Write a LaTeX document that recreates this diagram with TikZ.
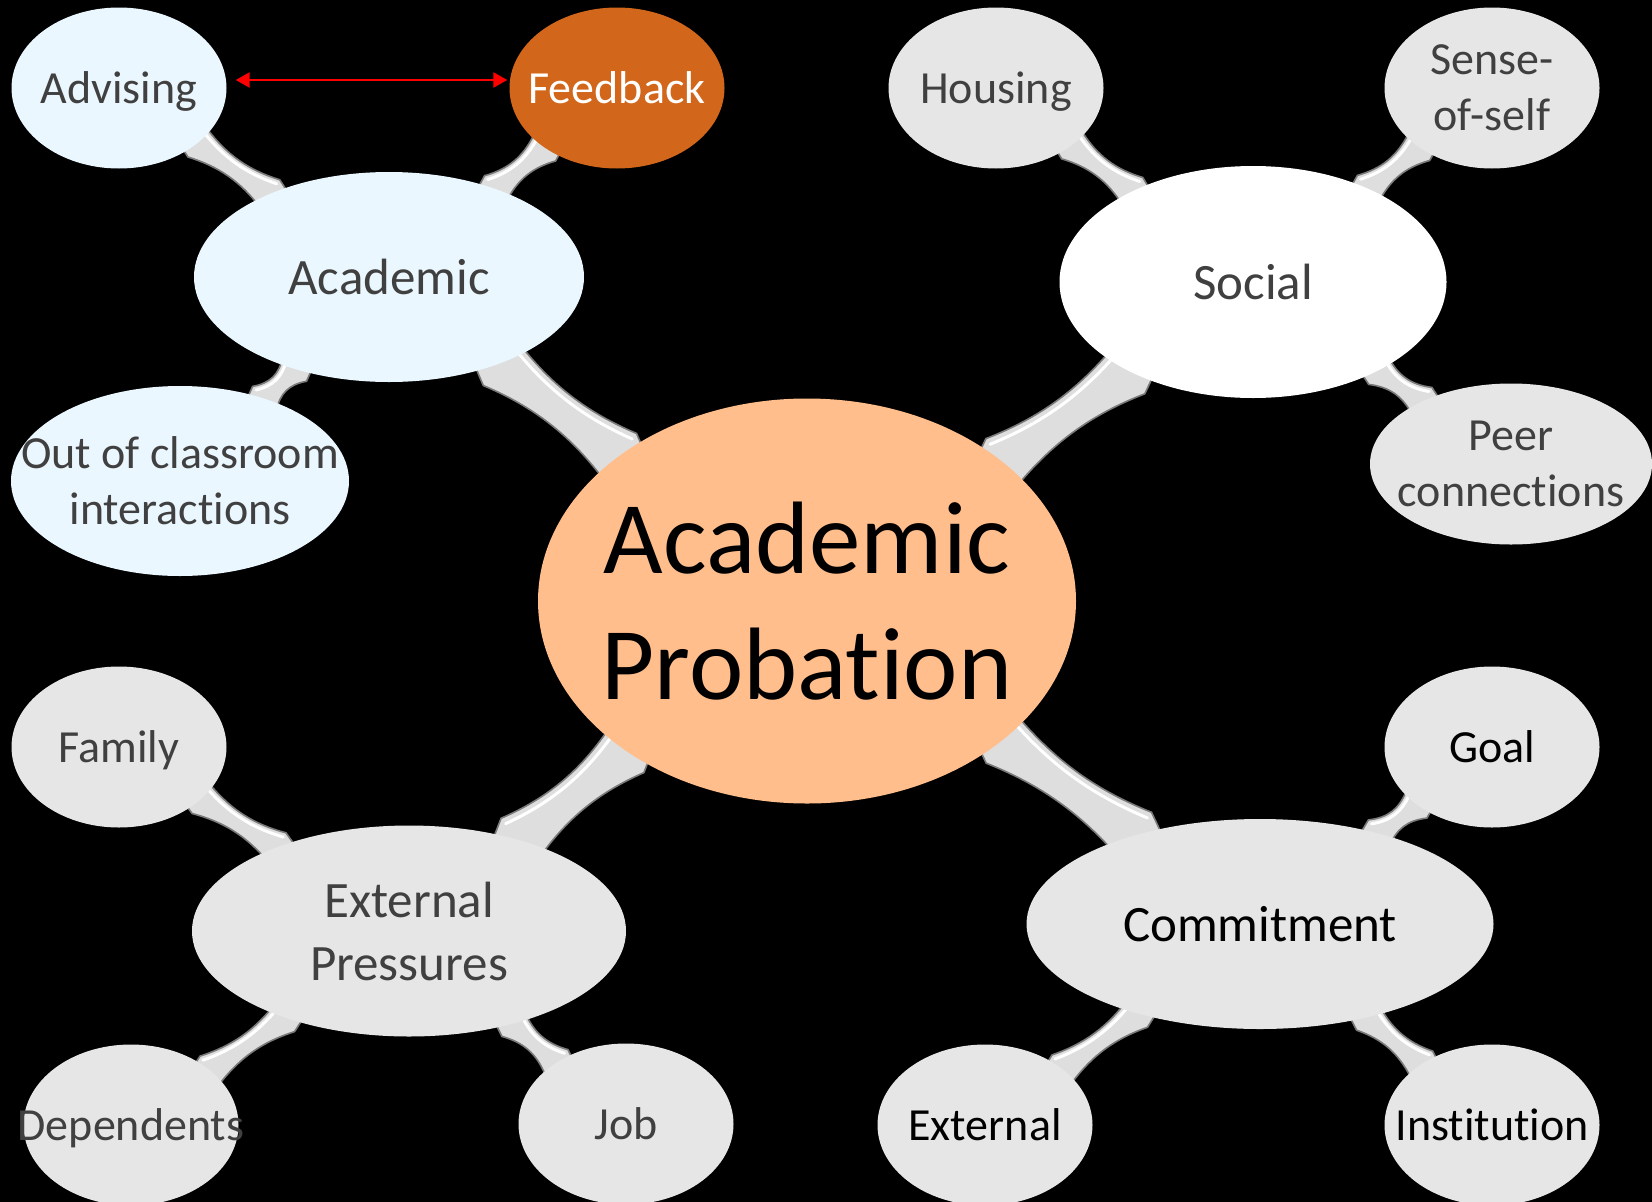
\documentclass[tikz,border=0pt]{standalone}
\usepackage{fontspec}
\setmainfont{Carlito}[Ligatures=NoCommon]
\usetikzlibrary{shapes.geometric,calc,arrows.meta}

\definecolor{acadblue}{HTML}{EAF7FE}
\definecolor{feedorange}{HTML}{D2661A}
\definecolor{hubpeach}{HTML}{FFBE8C}
\definecolor{leafgray}{HTML}{E6E6E6}
\definecolor{textgray}{HTML}{404040}
\definecolor{stemgray}{HTML}{DEDEDE}
\definecolor{stemedge}{HTML}{7A7A7A}

\pgfdeclarelayer{bg}
\pgfdeclarelayer{stems}
\pgfsetlayers{bg,stems,main}

\tikzset{
  bubble/.style={ellipse, inner sep=0pt},
  leaf/.style={bubble, minimum width=215pt, minimum height=161pt, fill=leafgray},
  stem/.style={fill=stemgray, draw=stemedge, line width=1.6pt},
  shine/.style={white, line width=3pt, line cap=round},
  leaftext/.style={font=\fontsize{46}{56}\selectfont, text=textgray, align=center, inner sep=0pt, text depth=0pt},
  midtext/.style={font=\fontsize{51}{63}\selectfont, text=textgray, align=center, inner sep=0pt, text depth=0pt},
  hubtext/.style={font=\fontsize{103}{126}\selectfont, text=black, align=center, inner sep=0pt, text depth=0pt},
  linkarrow/.style={{Triangle[length=14pt,width=15pt]}-{Triangle[length=14pt,width=15pt]}, red, line width=2.5pt}
}

\begin{document}
\begin{tikzpicture}[x=1pt, y=-1pt]
    \useasboundingbox (0,0) rectangle (1652,1202);
    \begin{pgfonlayer}{bg}
        \fill[black] (0,0) rectangle (1652,1202);
    \end{pgfonlayer}

    % centre
    \node[bubble, fill=hubpeach, minimum width=538pt, minimum height=405pt] (hub) at (807,601) {};

    % academic branch
    \node[bubble, fill=acadblue, minimum width=390pt, minimum height=210pt] (acad) at (389,277) {};
    \node[leaf, fill=acadblue] (adv) at (119,88) {};
    \node[leaf, fill=feedorange] (feed) at (617,88) {};
    \node[bubble, fill=acadblue, minimum width=338pt, minimum height=190pt] (out) at (180,481) {};

    % social branch
    \node[bubble, fill=white, minimum width=387pt, minimum height=232pt] (soc) at (1253,282) {};
    \node[leaf] (hous) at (996,88) {};
    \node[leaf] (sense) at (1492,88) {};
    \node[bubble, fill=leafgray, minimum width=282pt, minimum height=161pt] (peer) at (1511,464) {};

    % external pressures branch
    \node[bubble, fill=leafgray, minimum width=434pt, minimum height=211pt] (ext) at (409,931) {};
    \node[leaf] (fam) at (119,747) {};
    \node[leaf] (dep) at (131,1125) {};
    \node[leaf] (job) at (626,1124) {};

    % commitment branch
    \node[bubble, fill=leafgray, minimum width=467pt, minimum height=210pt] (com) at (1260,924) {};
    \node[leaf] (goal) at (1492,747) {};
    \node[leaf] (extl) at (985,1125) {};
    \node[leaf] (inst) at (1492,1125) {};

    % stems, left node first so the shine is on the upper side
    \begin{pgfonlayer}{stems}
    \foreach \a/\b/\W/\w/\H/\h in {acad/hub/28pt/14pt/21pt/8pt, hub/soc/28pt/14pt/21pt/8pt,
        ext/hub/28pt/14pt/21pt/8pt, hub/com/28pt/14pt/21pt/8pt,
        adv/acad/17pt/7pt/12pt/3pt, acad/feed/17pt/7pt/12pt/3pt, out/acad/17pt/7pt/12pt/3pt,
        hous/soc/17pt/7pt/12pt/3pt, soc/sense/17pt/7pt/12pt/3pt, soc/peer/17pt/7pt/12pt/3pt,
        fam/ext/17pt/7pt/12pt/3pt, dep/ext/17pt/7pt/12pt/3pt, ext/job/17pt/7pt/12pt/3pt,
        com/goal/17pt/7pt/12pt/3pt, extl/com/17pt/7pt/12pt/3pt, com/inst/17pt/7pt/12pt/3pt}{
        \path (\a) -- (\b) coordinate[pos=0] (s) coordinate[pos=1] (t);
        \filldraw[stem] ($(s)!-25pt!(t)!\w!90:(t)$) -- ($(s)!\W!90:(t)$)
            .. controls ($(s)!0.35!(t)!\w!90:(t)$) and ($(s)!0.65!(t)!\w!90:(t)$) .. ($(t)!\W!-90:(s)$)
            -- ($(t)!-25pt!(s)!\w!-90:(s)$) -- ($(t)!-25pt!(s)!\w!90:(s)$) -- ($(t)!\W!90:(s)$)
            .. controls ($(s)!0.65!(t)!\w!-90:(t)$) and ($(s)!0.35!(t)!\w!-90:(t)$) .. ($(s)!\W!-90:(t)$)
            -- ($(s)!-25pt!(t)!\w!-90:(t)$) -- cycle;
        \draw[shine] ($(s)!\H!90:(t)$)
            .. controls ($(s)!0.35!(t)!\h!90:(t)$) and ($(s)!0.65!(t)!\h!90:(t)$) .. ($(t)!\H!-90:(s)$);
    }
    \end{pgfonlayer}

    % labels
    \node[hubtext] (hub-t) at (hub) {Academic\\Probation};
    \node[midtext] (acad-t) at (acad) {Academic};
    \node[leaftext] (adv-t) at (adv) {Advising};
    \node[leaftext, text=white] (feed-t) at (feed) {Feedback};
    \node[leaftext] (out-t) at (out) {Out of classroom\\interactions};
    \node[midtext] (soc-t) at (soc) {Social};
    \node[leaftext] (hous-t) at (hous) {Housing};
    \node[leaftext] (sense-t) at (sense) {Sense-\\of-self};
    \node[leaftext] (peer-t) at (peer) {Peer\\connections};
    \node[midtext] (ext-t) at (ext) {External\\Pressures};
    \node[leaftext] (fam-t) at (fam) {Family};
    \node[leaftext] (dep-t) at (dep) {Dependents};
    \node[leaftext] (job-t) at (job) {Job};
    \node[midtext, text=black] (com-t) at (com) {Commitment};
    \node[leaftext, text=black] (goal-t) at (goal) {Goal};
    \node[leaftext, text=black] (extl-t) at (extl) {External};
    \node[leaftext, text=black] (inst-t) at (inst) {Institution};

    \draw[linkarrow] ([xshift=9pt,yshift=8pt]adv.east) -- ([xshift=-2pt,yshift=8pt]feed.west);
\end{tikzpicture}
\end{document}
